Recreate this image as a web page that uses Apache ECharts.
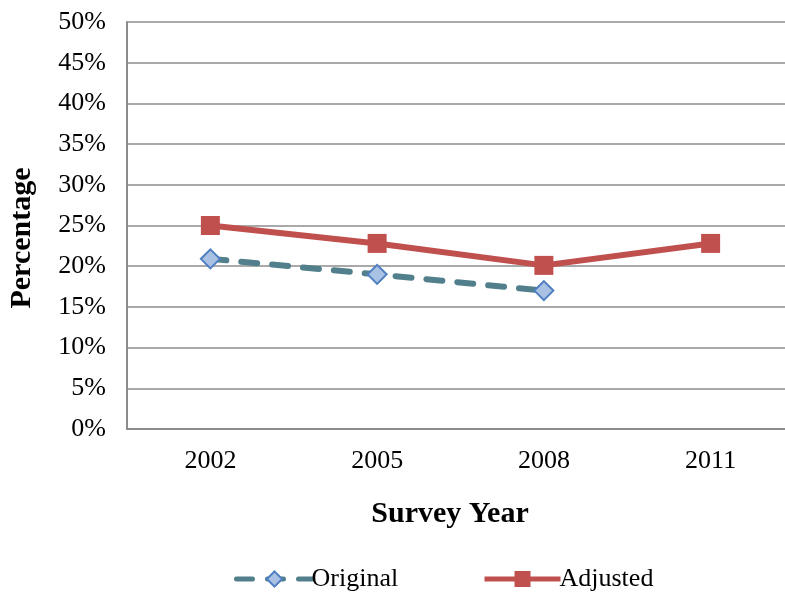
<!DOCTYPE html>
<html>
<head>
<meta charset="utf-8">
<script src="https://cdn.jsdelivr.net/npm/echarts@6/dist/echarts.min.js"></script>
<style>
  html, body { margin: 0; padding: 0; background: #fff; }
  #chart { width: 785px; height: 592px; }
</style>
</head>
<body>
<div id="chart"></div>
<script>
// Survey years on the category axis
const years = ['2002', '2005', '2008', '2011'];
// Share of respondents (%) per survey year
const originalValues = [20.9, 19.0, 17.0, null];
const adjustedValues = [25.0, 22.8, 20.1, 22.8];
// Value axis range and step (%)
const yMin = 0, yMax = 50, yStep = 5;

const serif = '"Liberation Serif", "Times New Roman", serif';
const chart = echarts.init(document.getElementById('chart'), null, { renderer: 'canvas' });

chart.setOption({
  animation: false,
  backgroundColor: '#ffffff',
  // the plot area runs slightly past the right edge of the canvas
  grid: { left: 127, width: 667, top: 22, bottom: 163, outerBoundsMode: 'none', containLabel: false },
  graphic: [
    {
      type: 'text',
      x: 22, y: 238,
      rotation: Math.PI / 2,
      style: {
        text: 'Percentage',
        font: 'bold 30px ' + serif,
        fill: '#000',
        align: 'center',
        verticalAlign: 'middle'
      }
    }
  ],
  xAxis: {
    type: 'category',
    data: years,
    boundaryGap: true,
    name: 'Survey Year',
    nameLocation: 'middle',
    nameGap: 70,
    nameTextStyle: { fontFamily: serif, fontSize: 30, fontWeight: 'bold', color: '#000', padding: [0, 21, 0, 0] },
    axisLine: { lineStyle: { color: '#8c8c8c', width: 2 } },
    axisTick: { show: false },
    axisLabel: { fontFamily: serif, fontSize: 26, color: '#000', margin: 19 }
  },
  yAxis: {
    type: 'value',
    min: yMin, max: yMax, interval: yStep,
    axisLine: { show: true, lineStyle: { color: '#8c8c8c', width: 2 } },
    axisTick: { show: false },
    splitLine: { lineStyle: { color: '#8c8c8c', width: 1.5 } },
    axisLabel: { fontFamily: serif, fontSize: 26, color: '#000', margin: 21, formatter: '{value}%' }
  },
  legend: [
    {
      data: ['Original'],
      left: 229, top: 561,
      itemWidth: 76, itemHeight: 19,
      lineStyle: { width: 5 },
      textStyle: { fontFamily: serif, fontSize: 26, color: '#000', padding: [0, 0, 0, -6] }
    },
    {
      data: ['Adjusted'],
      left: 477, top: 561,
      itemWidth: 76, itemHeight: 20,
      lineStyle: { width: 5 },
      textStyle: { fontFamily: serif, fontSize: 26, color: '#000', padding: [0, 0, 0, -6] }
    }
  ],
  series: [
    {
      name: 'Original',
      type: 'line',
      data: originalValues,
      symbol: 'diamond',
      symbolSize: 19,
      lineStyle: { color: '#527f8c', width: 6, type: [16, 15], cap: 'round' },
      itemStyle: { color: '#a9c1e3', borderColor: '#4f7fc0', borderWidth: 2 },
      z: 3
    },
    {
      name: 'Adjusted',
      type: 'line',
      data: adjustedValues,
      symbol: 'rect',
      symbolSize: 19,
      lineStyle: { color: '#c0504d', width: 6 },
      itemStyle: { color: '#c0504d', borderColor: '#c0504d', borderWidth: 0 },
      z: 2
    }
  ]
});
</script>
</body>
</html>
